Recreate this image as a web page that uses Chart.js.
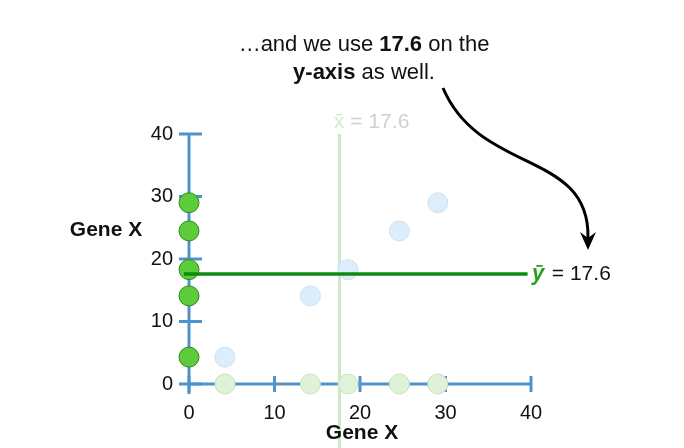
<!DOCTYPE html>
<html><head><meta charset="utf-8">
<script src="https://cdn.jsdelivr.net/npm/chart.js@4"></script>
<style>body{margin:0;background:#fff}#w{width:684px;height:448px}</style></head>
<body><div id="w"><canvas id="c"></canvas></div>
<script>
const geneX = [4.2, 14.2, 18.6, 24.6, 29.1];
const geneY = [4.3, 14.1, 18.3, 24.5, 29.0];
const meanX = 17.6, meanY = 17.6;
const ticks = [0, 10, 20, 30, 40];
const AX = '#4f93c9';
const F = '"Helvetica Neue", Arial, "Liberation Sans", sans-serif';

const deco = {
  id: 'deco',
  beforeDatasetsDraw(ch) {
    const c = ch.ctx, x = ch.scales.x, y = ch.scales.y;
    c.save();
    c.strokeStyle = '#cfe8c8'; c.lineWidth = 3;
    c.beginPath(); c.moveTo(x.getPixelForValue(meanX), y.getPixelForValue(40)); c.lineTo(x.getPixelForValue(meanX), 448); c.stroke();
    c.strokeStyle = AX; c.lineWidth = 3;
    c.beginPath(); c.moveTo(x.getPixelForValue(0), y.getPixelForValue(0)); c.lineTo(x.getPixelForValue(40), y.getPixelForValue(0));
    c.moveTo(x.getPixelForValue(0), y.getPixelForValue(0) + 10); c.lineTo(x.getPixelForValue(0), y.getPixelForValue(40)); c.stroke();
    c.beginPath();
    ticks.forEach(t => {
      const px = x.getPixelForValue(t), py = y.getPixelForValue(t), y0 = y.getPixelForValue(0), x0 = x.getPixelForValue(0);
      c.moveTo(px, y0 - 8); c.lineTo(px, y0 + 8);
      c.moveTo(x0 - 10, py); c.lineTo(x0 + 13, py);
    });
    c.stroke();
    c.fillStyle = '#111'; c.font = '20px ' + F;
    c.textAlign = 'right'; c.textBaseline = 'middle';
    ticks.forEach(t => c.fillText(String(t), x.getPixelForValue(0) - 16, y.getPixelForValue(t)));
    c.textAlign = 'center'; c.textBaseline = 'top';
    ticks.forEach(t => c.fillText(String(t), x.getPixelForValue(t), y.getPixelForValue(0) + 19));
    c.font = 'bold 21px ' + F; c.textBaseline = 'middle';
    c.fillText('Gene X', 106, 230);
    c.fillText('Gene X', 362, 433);
    c.textAlign = 'left'; c.font = '21px ' + F;
    const lx = 334, ly = 122;
    c.fillStyle = '#d2ebcc'; c.fillText('x̄', lx, ly);
    c.fillStyle = '#d0d0d0'; c.fillText(' = 17.6', lx + c.measureText('x̄').width, ly);
    c.restore();
  },
  afterDatasetsDraw(ch) {
    const c = ch.ctx, x = ch.scales.x, y = ch.scales.y;
    c.save();
    const py = y.getPixelForValue(meanY);
    c.strokeStyle = '#0c8a12'; c.lineWidth = 3.5;
    c.beginPath(); c.moveTo(x.getPixelForValue(-0.6), py); c.lineTo(x.getPixelForValue(39.6), py); c.stroke();
    c.font = 'italic bold 22px ' + F; c.fillStyle = '#2aa01a'; c.textBaseline = 'middle'; c.textAlign = 'left';
    c.fillText('ȳ', 532, py);
    c.font = '21px ' + F; c.fillStyle = '#111';
    c.fillText(' = 17.6', 532 + 14, py);
    c.textAlign = 'left';
    const parts1 = [['…and we use ', ''], ['17.6', 'bold '], [' on the', '']];
    const parts2 = [['y-axis', 'bold '], [' as well.', '']];
    [[parts1, 45], [parts2, 73]].forEach(([ps, yy]) => {
      let w = 0; ps.forEach(p => { c.font = p[1] + '22px ' + F; w += c.measureText(p[0]).width; });
      let sx = 364 - w / 2;
      ps.forEach(p => { c.font = p[1] + '22px ' + F; c.fillText(p[0], sx, yy); sx += c.measureText(p[0]).width; });
    });
    c.strokeStyle = '#000'; c.lineWidth = 3;
    c.beginPath(); c.moveTo(443, 88); c.bezierCurveTo(480, 175, 590, 150, 588, 238); c.stroke();
    c.fillStyle = '#000';
    c.beginPath(); c.moveTo(580, 232); c.lineTo(588, 250); c.lineTo(596, 232); c.lineTo(588, 238); c.closePath(); c.fill();
    c.restore();
  }
};

new Chart(document.getElementById('c'), {
  type: 'scatter',
  data: { datasets: [
    { data: geneY.map(v => ({x: 0, y: v})), backgroundColor: '#5ccc3a', borderColor: '#2f8a25', borderWidth: 1, pointRadius: 10, clip: false },
    { data: geneX.map((v, i) => ({x: v, y: geneY[i]})), backgroundColor: '#dcedfb', borderColor: '#cce1f3', borderWidth: 1, pointRadius: 10, clip: false },
    { data: geneX.map(v => ({x: v, y: 0})), backgroundColor: '#e0f3d9', borderColor: '#c9dfc2', borderWidth: 1, pointRadius: 10, clip: false }
  ]},
  options: {
    responsive: true, maintainAspectRatio: false, animation: false,
    layout: { padding: { left: 189, right: 153, top: 134, bottom: 64 } },
    plugins: { legend: { display: false }, tooltip: { enabled: false } },
    scales: { x: { min: 0, max: 40, display: false }, y: { min: 0, max: 40, display: false } }
  },
  plugins: [deco]
});
</script></body></html>
